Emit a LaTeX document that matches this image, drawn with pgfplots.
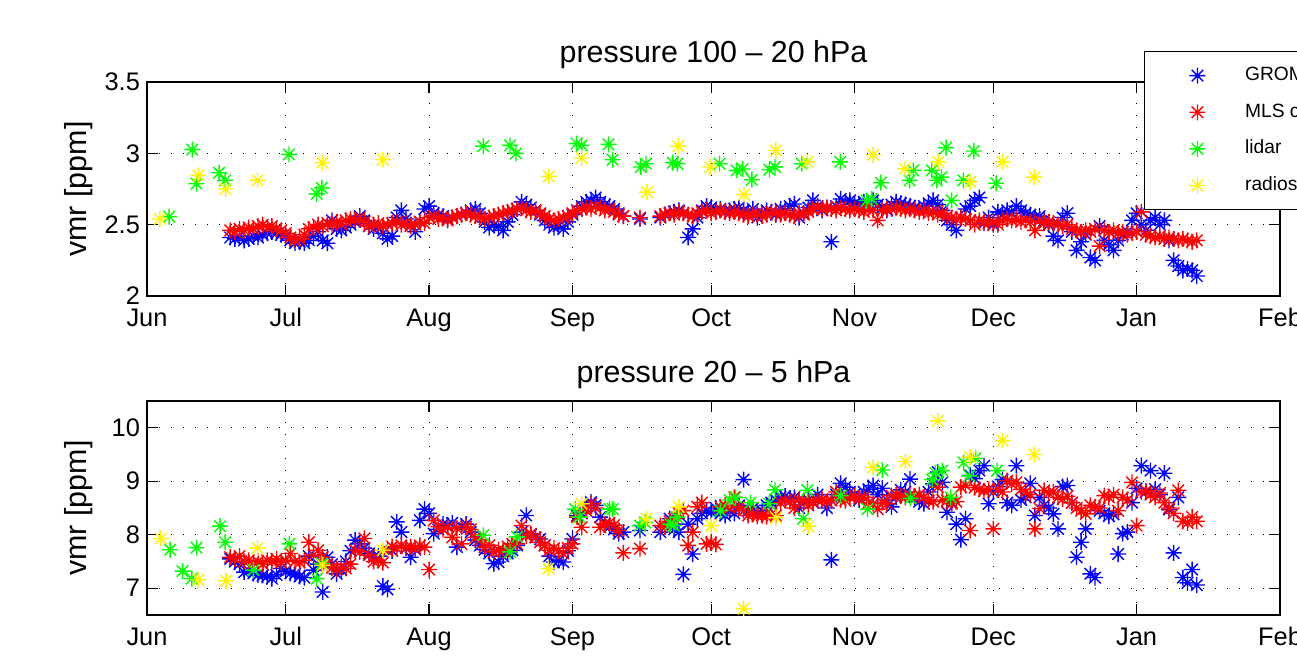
\documentclass[border=0pt]{standalone}
\usepackage{pgfplots}
\pgfplotsset{compat=1.18}
\usepackage{fontspec}
\setmainfont{Liberation Sans}

% MATLAB style asterisk: plus and cross
\pgfdeclareplotmark{mstar}{%
  \pgfpathmoveto{\pgfqpoint{-\pgfplotmarksize}{0pt}}%
  \pgfpathlineto{\pgfqpoint{\pgfplotmarksize}{0pt}}%
  \pgfpathmoveto{\pgfqpoint{0pt}{-\pgfplotmarksize}}%
  \pgfpathlineto{\pgfqpoint{0pt}{\pgfplotmarksize}}%
  \pgfpathmoveto{\pgfqpoint{-.72\pgfplotmarksize}{-.72\pgfplotmarksize}}%
  \pgfpathlineto{\pgfqpoint{.72\pgfplotmarksize}{.72\pgfplotmarksize}}%
  \pgfpathmoveto{\pgfqpoint{-.72\pgfplotmarksize}{.72\pgfplotmarksize}}%
  \pgfpathlineto{\pgfqpoint{.72\pgfplotmarksize}{-.72\pgfplotmarksize}}%
  \pgfusepathqstroke}

\pgfplotsset{
  mlab/.style={
    scale only axis, width=566.5pt, height=107pt,
    xmin=0, xmax=245,
    xtick={0,30,61,92,122,153,183,214,245},
    xticklabels={Jun,Jul,Aug,Sep,Oct,Nov,Dec,Jan,Feb},
    grid=major,
    major grid style={black, line width=0.5pt, dash pattern=on 0.6pt off 5.4pt},
    tick align=inside, major tick length=5.5pt,
    every tick/.style={black, line width=0.6pt},
    axis line style={line width=0.9pt},
    tick label style={font=\fontsize{12.7}{14}\selectfont},
    /pgf/number format/assume math mode=true,
    xticklabel style={anchor=base, yshift=-15.5pt},
    ylabel={vmr [ppm]},
    every axis y label/.style={at={(axis description cs:-0.0538,0.5)}, rotate=90, anchor=base, font=\fontsize{15.2}{17}\selectfont},
    title style={font=\fontsize{15.2}{17}\selectfont, at={(0.5,1)}, anchor=base, yshift=3.5pt},
  },
  ms/.style={only marks, mark=mstar, mark size=4pt, line width=0.7pt,
    legend image code/.code={\path (0pt,0pt) (49.5pt,0pt); \draw[##1] plot coordinates {(26pt,0pt)};}},
  gro/.style={ms, color=blue},
  mls/.style={ms, color=red},
  lid/.style={ms, color=green},
  rad/.style={ms, color=yellow},
}

\begin{document}
\begin{tikzpicture}
\path[use as bounding box] (0,0) rectangle (648.5pt,329pt);

\begin{axis}[mlab, at={(73.5pt,181pt)}, anchor=south west,
  ymin=2, ymax=3.5, ytick={2,2.5,3,3.5},
  title={pressure 100 – 20 hPa},
  legend style={at={(0.88,1.145)}, anchor=north west, draw=black, line width=0.7pt, fill=white,
    inner xsep=0pt, inner ysep=7.5pt, row sep=9.3pt, font=\fontsize{9.6}{11}\selectfont,
    nodes={inner sep=0pt, text height=7pt, text depth=2pt}},
  legend cell align=left,
]
\addplot[gro] coordinates {
(18,2.41)(19,2.40)(20,2.42)(21,2.39)(22,2.40)(23,2.42)(24,2.41)(25,2.43)(26,2.44)(27,2.45)
(28,2.44)(29,2.43)(30,2.42)(31,2.39)(32,2.37)(33,2.38)(34,2.37)(35,2.39)(36,2.42)(37,2.45)
(38,2.39)(39,2.37)(40,2.53)(41,2.47)(42,2.46)(43,2.48)(44,2.50)(45,2.52)(46,2.56)(47,2.53)
(48,2.49)(49,2.47)(50,2.48)(51,2.44)(52,2.40)(53,2.42)(54,2.55)(55,2.60)(56,2.54)(57,2.50)
(58,2.45)(59,2.52)(60,2.61)(61,2.63)(62,2.58)(63,2.57)(64,2.56)(65,2.54)(66,2.55)(67,2.56)
(68,2.57)(69,2.58)(70,2.60)(71,2.61)(72,2.58)(73,2.52)(74,2.48)(75,2.50)(76,2.49)(77,2.46)
(78,2.52)(79,2.57)(80,2.61)(81,2.66)(82,2.64)(83,2.62)(84,2.60)(85,2.57)(86,2.53)(87,2.50)
(88,2.48)(89,2.49)(90,2.47)(91,2.52)(92,2.57)(93,2.60)(94,2.63)(95,2.66)(96,2.67)(97,2.69)
(98,2.66)(99,2.64)(100,2.63)(101,2.61)(102,2.58)(103,2.56)(106.6,2.54)
(111,2.55)(112,2.57)(113,2.58)(114,2.59)(115,2.60)(116,2.58)(117,2.41)(118,2.47)(119,2.55)
(120,2.60)(121,2.63)(122,2.62)(123,2.60)(124,2.61)(125,2.59)(126,2.60)(127,2.61)(128,2.62)
(129,2.60)(130,2.58)(131,2.61)(132,2.55)(133,2.58)(134,2.60)(135,2.59)(136,2.57)(137,2.61)
(138,2.60)(139,2.63)(140,2.645)(141,2.55)(142,2.58)(143,2.62)(144,2.67)(145,2.63)(146,2.60)
(147,2.62)(148,2.38)(149,2.63)(150,2.68)(151,2.66)(152,2.67)(153,2.65)(154,2.64)(155,2.66)
(156,2.65)(157,2.67)(158,2.64)(159,2.62)(160,2.60)(161,2.64)(162,2.66)(163,2.65)(164,2.64)
(165,2.63)(166,2.62)(167,2.61)(168,2.63)(169,2.65)(170,2.67)(171,2.64)(172,2.60)(173,2.53)
(174,2.50)(175,2.46)(176,2.55)(177,2.61)(178,2.63)(179,2.67)(180,2.69)(181,2.51)(182,2.55)
(183,2.50)(184,2.59)(185,2.57)(186,2.60)(187,2.58)(188,2.63)(189,2.60)(190,2.58)(191,2.57)
(192,2.55)(193,2.56)(194,2.53)(195,2.50)(196,2.42)(197,2.39)(198,2.55)(199,2.58)(200,2.45)
(201,2.32)(202,2.38)(203,2.43)(204,2.27)(205,2.25)(206,2.49)(207,2.39)(208,2.36)(209,2.32)
(210,2.39)(211,2.43)(212,2.45)(213,2.53)(214,2.58)(215,2.50)(216,2.46)(217,2.53)(218,2.55)
(219,2.50)(220,2.53)(221,2.39)(222,2.25)(223,2.21)(224,2.18)(225,2.19)(226,2.18)(227,2.14)
};
\addlegendentry{GROMOS}
\addplot[mls] coordinates {
(18,2.46)(19,2.45)(20,2.47)(21,2.46)(22,2.48)(23,2.47)(24,2.49)(25,2.50)(26,2.48)(27,2.49)
(28,2.47)(29,2.46)(30,2.44)(31,2.41)(32,2.39)(33,2.40)(34,2.43)(35,2.47)(36,2.48)(37,2.50)
(38,2.49)(39,2.51)(40,2.50)(41,2.52)(42,2.50)(43,2.53)(44,2.54)(45,2.53)(46,2.55)(47,2.52)
(48,2.49)(49,2.50)(50,2.51)(51,2.49)(52,2.50)(53,2.51)(54,2.52)(55,2.50)(56,2.51)(57,2.49)
(58,2.50)(59,2.52)(60,2.51)(61,2.55)(62,2.56)(63,2.54)(64,2.55)(65,2.53)(66,2.55)(67,2.56)
(68,2.57)(69,2.58)(70,2.57)(71,2.56)(72,2.55)(73,2.54)(74,2.55)(75,2.56)(76,2.57)(77,2.58)
(78,2.59)(79,2.60)(80,2.61)(81,2.62)(82,2.60)(83,2.59)(84,2.60)(85,2.58)(86,2.56)(87,2.54)
(88,2.53)(89,2.54)(90,2.55)(91,2.56)(92,2.58)(93,2.60)(94,2.61)(95,2.62)(96,2.61)(97,2.63)
(98,2.62)(99,2.60)(100,2.61)(101,2.59)(102,2.57)(103,2.56)(106.6,2.55)
(111,2.56)(112,2.57)(113,2.58)(114,2.57)(115,2.59)(116,2.58)(117,2.57)(118,2.56)(119,2.58)
(120,2.59)(121,2.60)(122,2.58)(123,2.59)(124,2.60)(125,2.59)(126,2.58)(127,2.59)(128,2.58)
(129,2.57)(130,2.56)(131,2.57)(132,2.58)(133,2.56)(134,2.57)(135,2.59)(136,2.58)(137,2.57)
(138,2.58)(139,2.57)(140,2.56)(141,2.58)(142,2.57)(143,2.59)(144,2.61)(145,2.62)(146,2.61)
(147,2.62)(148,2.61)(149,2.60)(150,2.62)(151,2.61)(152,2.60)(153,2.61)(154,2.60)(155,2.59)
(156,2.61)(157,2.60)(158,2.53)(159,2.60)(160,2.61)(161,2.61)(162,2.62)(163,2.61)(164,2.60)
(165,2.61)(166,2.60)(167,2.59)(168,2.60)(169,2.58)(170,2.59)(171,2.57)(172,2.58)(173,2.56)
(174,2.55)(175,2.54)(176,2.55)(177,2.54)(178,2.53)(179,2.50)(180,2.53)(181,2.52)(182,2.51)
(183,2.52)(184,2.50)(185,2.53)(186,2.54)(187,2.53)(188,2.54)(189,2.52)(190,2.53)(191,2.52)
(192,2.46)(193,2.53)(194,2.51)(195,2.52)(196,2.51)(197,2.50)(198,2.49)(199,2.50)(200,2.47)
(201,2.46)(202,2.45)(203,2.46)(204,2.45)(205,2.47)(206,2.35)(207,2.46)(208,2.45)(209,2.46)
(210,2.44)(211,2.45)(212,2.43)(213,2.44)(214,2.45)(215,2.59)(216,2.43)(217,2.42)(218,2.41)
(219,2.42)(220,2.40)(221,2.41)(222,2.40)(223,2.39)(224,2.40)(225,2.39)(226,2.38)(227,2.39)
};
\addlegendentry{MLS convolved}
\addplot[lid] coordinates {
(4.8,2.556)(9.8,3.026)(10.7,2.787)(15.6,2.864)(16.9,2.81)(30.7,2.993)(36.7,2.716)(37.8,2.758)
(72.7,3.05)(78.5,3.056)(79.8,3.0)(92.9,3.068)(94,3.056)(99.8,3.063)(100.7,2.955)(106.8,2.904)
(107.9,2.927)(113.7,2.934)(114.7,2.927)(123.8,2.927)(127.5,2.88)(128.8,2.89)(130.8,2.815)
(134.6,2.885)(135.8,2.905)(141.6,2.927)(149.9,2.94)(155.6,2.669)(156.7,2.68)(158.7,2.794)
(164.9,2.81)(165.7,2.88)(169.7,2.88)(170.8,2.81)(171.8,2.833)(172.8,3.04)(174,2.67)
(176.5,2.81)(178.8,3.016)(183.6,2.79)
};
\addlegendentry{lidar}
\addplot[rad] coordinates {
(2.8,2.54)(11.1,2.845)(17,2.75)(23.9,2.81)(37.9,2.934)(51,2.955)(86.9,2.838)(94,2.967)
(108.1,2.728)(114.9,3.05)(121.8,2.904)(129.1,2.711)(136,3.02)(142.8,2.94)(157,2.99)
(163.9,2.892)(171.1,2.94)(178,2.8)(185,2.94)(191.9,2.833)
};
\addlegendentry{radiosonde}
\end{axis}

\begin{axis}[mlab, at={(73.5pt,21.5pt)}, anchor=south west,
  ymin=6.5, ymax=10.5, ytick={7,8,9,10},
  title={pressure 20 – 5 hPa},
]
\addplot[gro] coordinates {
(18,7.55)(19,7.50)(20,7.45)(21,7.30)(22,7.33)(23,7.28)(24,7.25)(25,7.24)(26,7.22)(27,7.18)
(28,7.25)(29,7.37)(30,7.32)(31,7.28)(32,7.27)(33,7.22)(34,7.20)(35,7.60)(36,7.34)(37,7.45)
(38,6.93)(39,7.58)(40,7.45)(41,7.27)(42,7.35)(43,7.50)(44,7.70)(45,7.90)(46,7.83)(47,7.75)
(48,7.65)(49,7.58)(50,7.60)(51,7.04)(52,6.98)(53,7.70)(54,8.24)(55,8.05)(56,7.75)(57,7.58)
(58,7.72)(59,8.27)(60,8.48)(61,8.40)(62,8.02)(63,8.10)(64,8.20)(65,8.18)(66,8.22)(67,7.77)
(68,8.15)(69,8.20)(70,8.05)(71,7.90)(72,7.80)(73,7.72)(74,7.65)(75,7.46)(76,7.49)(77,7.60)
(78,7.65)(79,7.71)(80,7.80)(81,8.05)(82,8.36)(83,8.00)(84,7.95)(85,7.92)(86,7.80)(87,7.60)
(88,7.49)(89,7.52)(90,7.49)(91,7.70)(92,7.92)(93,8.36)(94,8.40)(95,8.50)(96,8.61)(97,8.55)
(98,8.33)(99,8.20)(100,8.15)(101,8.10)(102,8.02)(103,8.05)(106.6,8.08)
(111,8.05)(112,8.15)(113,8.30)(114,8.10)(115,8.05)(116,7.26)(117,8.20)(118,7.64)(119,8.30)
(120,8.40)(121,8.45)(122,8.42)(123,8.50)(124,8.40)(125,8.36)(126,8.45)(127,8.40)(128,8.55)
(129,9.03)(130,8.45)(131,8.50)(132,8.40)(133,8.45)(134,8.55)(135,8.60)(136,8.65)(137,8.70)
(138,8.72)(139,8.68)(140,8.70)(141,8.50)(142,8.62)(143,8.65)(144,8.60)(145,8.75)(146,8.65)
(147,8.50)(148,7.53)(149,8.75)(150,8.96)(151,8.89)(152,8.80)(153,8.75)(154,8.65)(155,8.80)
(156,8.85)(157,8.92)(158,8.75)(159,8.87)(160,8.65)(161,8.52)(162,8.70)(163,8.84)(164,8.80)
(165,9.04)(166,8.70)(167,8.62)(168,8.58)(169,8.80)(170,8.95)(171,9.17)(172,8.98)(173,8.42)
(174,8.60)(175,8.20)(176,7.91)(177,8.30)(178,9.11)(179,9.05)(180,9.20)(181,9.29)(182,8.58)
(183,8.80)(184,8.90)(185,9.03)(186,8.60)(187,8.55)(188,9.29)(189,8.65)(190,8.70)(191,8.96)
(192,8.36)(193,8.70)(194,8.55)(195,8.50)(196,8.39)(197,8.11)(198,8.90)(199,8.92)(200,8.60)
(201,7.58)(202,7.86)(203,8.11)(204,7.27)(205,7.20)(206,8.45)(207,8.40)(208,8.35)(209,8.38)
(210,7.64)(211,8.02)(212,8.05)(213,8.60)(214,8.87)(215,9.29)(216,8.80)(217,9.20)(218,8.85)
(219,8.75)(220,9.15)(221,8.47)(222,7.66)(223,8.70)(224,7.20)(225,7.10)(226,7.35)(227,7.06)
};
\addplot[mls] coordinates {
(18,7.58)(19,7.55)(20,7.60)(21,7.50)(22,7.52)(23,7.48)(24,7.50)(25,7.45)(26,7.52)(27,7.50)
(28,7.55)(29,7.48)(30,7.52)(31,7.65)(32,7.50)(33,7.48)(34,7.52)(35,7.86)(36,7.62)(37,7.71)
(38,7.58)(39,7.45)(40,7.38)(41,7.35)(42,7.40)(43,7.37)(44,7.45)(45,7.71)(46,7.68)(47,7.93)
(48,7.62)(49,7.50)(50,7.52)(51,7.48)(52,7.70)(53,7.78)(54,7.75)(55,7.80)(56,7.76)(57,7.78)
(58,7.74)(59,7.80)(60,7.77)(61,7.35)(62,8.27)(63,8.15)(64,8.10)(65,8.14)(66,7.95)(67,8.12)
(68,7.83)(69,8.15)(70,8.10)(71,7.95)(72,7.90)(73,7.77)(74,7.80)(75,7.68)(76,7.72)(77,7.70)
(78,7.78)(79,7.83)(80,7.83)(81,8.17)(82,7.98)(83,8.02)(84,7.95)(85,7.86)(86,7.80)(87,7.71)
(88,7.75)(89,7.70)(90,7.65)(91,7.75)(92,7.83)(93,8.33)(94,8.14)(95,8.45)(96,8.58)(97,8.50)
(98,8.14)(99,8.20)(100,8.22)(101,8.18)(102,8.08)(103,7.66)(106.6,7.74)
(111,8.17)(112,8.15)(113,8.25)(114,8.30)(115,8.40)(116,8.45)(117,7.80)(118,8.05)(119,8.52)
(120,8.60)(121,7.83)(122,7.85)(123,7.82)(124,8.52)(125,8.55)(126,8.50)(127,8.70)(128,8.52)
(129,8.45)(130,8.36)(131,8.38)(132,8.35)(133,8.36)(134,8.34)(135,8.38)(136,8.36)(137,8.60)
(138,8.64)(139,8.62)(140,8.50)(141,8.66)(142,8.64)(143,8.55)(144,8.62)(145,8.64)(146,8.66)
(147,8.62)(148,8.64)(149,8.80)(150,8.65)(151,8.64)(152,8.70)(153,8.72)(154,8.68)(155,8.70)
(156,8.60)(157,8.58)(158,8.48)(159,8.60)(160,8.58)(161,8.73)(162,8.75)(163,8.72)(164,8.70)
(165,8.74)(166,8.72)(167,8.75)(168,8.70)(169,8.64)(170,8.62)(171,8.89)(172,8.65)(173,8.64)
(174,8.58)(175,8.62)(176,8.89)(177,8.92)(178,8.08)(179,8.88)(180,8.85)(181,8.82)(182,8.85)
(183,8.11)(184,8.85)(185,8.80)(186,9.01)(187,8.95)(188,8.98)(189,8.85)(190,8.80)(191,8.75)
(192,8.11)(193,8.49)(194,8.83)(195,8.78)(196,8.80)(197,8.70)(198,8.67)(199,8.72)(200,8.60)
(201,8.50)(202,8.45)(203,8.39)(204,8.55)(205,8.52)(206,8.50)(207,8.73)(208,8.70)(209,8.75)
(210,8.45)(211,8.70)(212,8.65)(213,8.98)(214,8.17)(215,8.80)(216,8.82)(217,8.75)(218,8.70)
(219,8.78)(220,8.60)(221,8.50)(222,8.40)(223,8.83)(224,8.25)(225,8.22)(226,8.33)(227,8.25)
};
\addplot[lid] coordinates {
(5,7.72)(7.7,7.32)(9.7,7.18)(10.7,7.76)(15.8,8.16)(16.9,7.86)(23,7.34)(30.8,7.83)(36.7,7.18)
(37.8,7.46)(72.7,7.99)(78.5,7.68)(80,7.96)(92.6,8.48)(93.6,8.33)(100,8.48)(100.7,8.48)
(106.6,8.17)(107.7,8.23)(113.2,8.2)(113.9,8.17)(114.6,8.33)(124,8.45)(126,8.65)(127.3,8.7)
(130.5,8.6)(134.5,8.58)(135.8,8.84)(141.9,8.3)(142.8,8.83)(150,8.73)(155.8,8.48)(159,9.21)
(165.1,8.68)(169.8,9.03)(170.5,9.15)(172,9.2)(173.8,8.7)(176.6,9.35)(177.8,9.1)(179.2,9.43)
(183.8,9.2)
};
\addplot[rad] coordinates {
(3,7.93)(11.1,7.16)(17.1,7.14)(23.9,7.75)(38,7.43)(51,7.71)(86.8,7.37)(94,8.58)(108,8.3)
(115,8.52)(122,8.17)(129,6.62)(136,8.32)(143,8.16)(157,9.26)(164,9.37)(171,10.13)(178,9.45)
(185,9.76)(191.9,9.5)
};
\end{axis}
\end{tikzpicture}
\end{document}
